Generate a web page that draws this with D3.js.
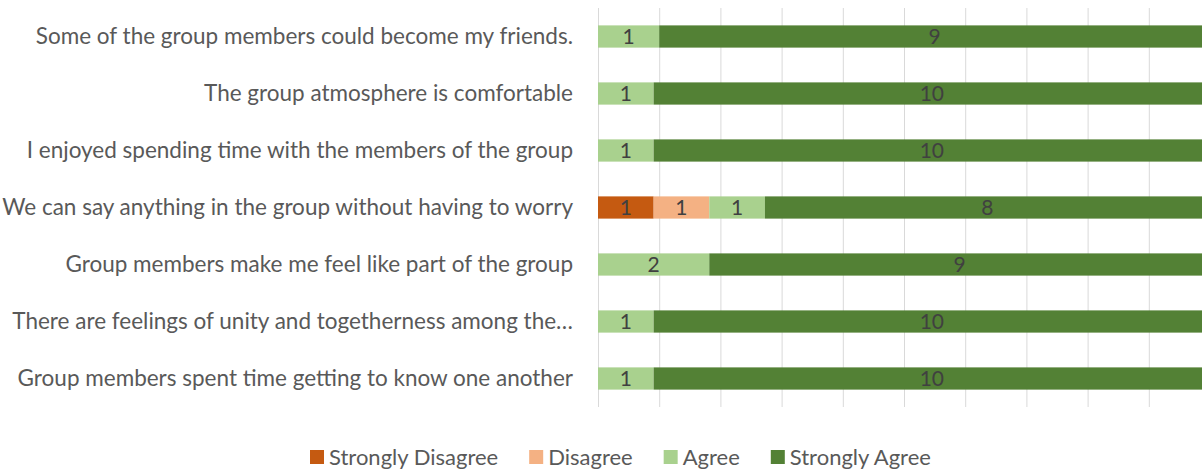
<!DOCTYPE html>
<html>
<head>
<meta charset="utf-8">
<script src="https://cdn.jsdelivr.net/npm/d3@7"></script>
<style>
  body { margin: 0; background: #fff; }
  svg { display: block; font-family: Lato, "Open Sans", sans-serif; }
</style>
</head>
<body>
<div id="container"></div>
<script>
const categories = [
    "Some of the group members could become my friends.",
    "The group atmosphere is comfortable",
    "I enjoyed spending time with the members of the group",
    "We can say anything in the group without having to worry",
    "Group members make me feel like part of the group",
    "There are feelings of unity and togetherness among the\u2026",
    "Group members spent time getting to know one another"
];

const seriesNames = ["Strongly Disagree", "Disagree", "Agree", "Strongly Agree"];

const stronglyDisagree = [0, 0, 0, 1, 0, 0, 0],
      disagree         = [0, 0, 0, 1, 0, 0, 0],
      agree            = [1, 1, 1, 1, 2, 1, 1],
      stronglyAgree    = [9, 10, 10, 8, 9, 10, 10];

const gridTicks = [0, 0.1, 0.2, 0.3, 0.4, 0.5, 0.6, 0.7, 0.8, 0.9, 1];

const colors = ["#C55A11", "#F4B183", "#A9D18E", "#538135"];

const WIDTH = 1202,
      HEIGHT = 469;

const margin = { top: 8, left: 598, bottom: 62 };
const plotWidth = 612,
      plotHeight = HEIGHT - margin.top - margin.bottom;

const svg = d3.select("#container").append("svg")
    .attr("width", WIDTH).attr("height", HEIGHT);

// rows as objects keyed by series so d3.stack can do the 100% layout
const rows = categories.map((c, i) => ({
    cat: c,
    "Strongly Disagree": stronglyDisagree[i],
    "Disagree": disagree[i],
    "Agree": agree[i],
    "Strongly Agree": stronglyAgree[i]
}));

const stacked = d3.stack()
    .keys(seriesNames)
    .offset(d3.stackOffsetExpand)(rows);

const xScale = d3.scaleLinear().domain([0, 1]).range([margin.left, margin.left + plotWidth]);
const yScale = d3.scaleBand().domain(categories)
    .range([margin.top, margin.top + plotHeight])
    .paddingInner(0.61).paddingOuter(0.305);
const color = d3.scaleOrdinal().domain(seriesNames).range(colors);

// gridlines
svg.append("g")
    .attr("transform", `translate(0, ${margin.top + plotHeight})`)
    .call(d3.axisBottom(xScale).tickValues(gridTicks).tickSize(-plotHeight).tickFormat(""))
    .call(g => g.select(".domain").remove())
    .call(g => g.selectAll("line").attr("stroke", "#d9d9d9").attr("stroke-width", 1));

// category labels
svg.append("g")
    .attr("transform", `translate(${margin.left}, 0)`)
    .call(d3.axisLeft(yScale).tickSize(0).tickPadding(25))
    .call(g => g.select(".domain").remove())
    .call(g => g.selectAll("text")
        .attr("fill", "#595959")
        .style("font-size", "22.5px")
        .style("font-family", "Lato, sans-serif"));

// bars
const layer = svg.append("g")
    .selectAll("g")
    .data(stacked)
    .join("g")
    .attr("fill", d => color(d.key));

layer.selectAll("rect")
    .data(d => d)
    .join("rect")
    .attr("x", d => xScale(d[0]))
    .attr("y", d => yScale(d.data.cat))
    .attr("width", d => xScale(d[1]) - xScale(d[0]))
    .attr("height", yScale.bandwidth());

// value labels
const labels = svg.append("g");
stacked.forEach(s => {
    s.forEach(d => {
        const v = d.data[s.key];
        if (!v) return;
        labels.append("text")
            .attr("x", (xScale(d[0]) + xScale(d[1])) / 2)
            .attr("y", yScale(d.data.cat) + yScale.bandwidth() / 2)
            .attr("dy", "0.36em")
            .attr("text-anchor", "middle")
            .attr("fill", "#404040")
            .style("font-size", "21px")
            .text(v);
    });
});

// legend
const legend = svg.append("g").attr("transform", "translate(310, 457)");
let lx = 0;
seriesNames.forEach(name => {
    const item = legend.append("g").attr("transform", `translate(${lx}, 0)`);
    item.append("rect")
        .attr("x", 0).attr("y", -7)
        .attr("width", 14).attr("height", 14)
        .attr("fill", color(name));
    const t = item.append("text")
        .attr("x", 19).attr("dy", "0.36em")
        .attr("fill", "#595959")
        .style("font-size", "22px")
        .text(name);
    lx += 19 + t.node().getComputedTextLength() + 31;
});
</script>
</body>
</html>
